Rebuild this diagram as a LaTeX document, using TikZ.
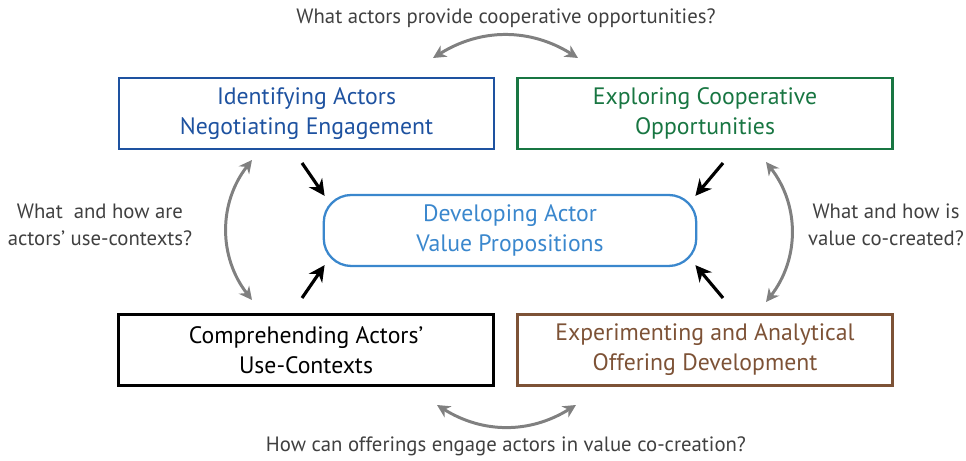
\documentclass[tikz,border=0pt]{standalone}
\usepackage{fontspec}
\setmainfont{PT Sans}
\usetikzlibrary{arrows.meta,positioning,calc}
\definecolor{idblue}{RGB}{30,82,160}
\definecolor{expgreen}{RGB}{24,118,66}
\definecolor{devblue}{RGB}{58,135,205}
\definecolor{offbrown}{RGB}{125,82,54}
\definecolor{arcgray}{RGB}{128,128,128}
\definecolor{qgray}{RGB}{64,64,64}

\begin{document}
\begin{tikzpicture}[>={Stealth[length=2.6mm,width=2.6mm]},
  stage/.style={draw,line width=1.6pt,minimum width=7.5cm,minimum height=1.42cm,
    align=center,font=\fontsize{13.5}{17}\selectfont},
  qtext/.style={text=qgray,align=center,font=\fontsize{11.8}{15.5}\selectfont},
  loop/.style={<->,draw=arcgray,line width=1.7pt},
  push/.style={-{Stealth[length=3.2mm,width=3.2mm]},line width=1.8pt}]
\useasboundingbox (0,0) rectangle (19.32,9.22);
% the four stages and the centre
\node[stage,draw=idblue,text=idblue] (ident) at (6.13,6.95) {Identifying Actors\\Negotiating Engagement};
\node[stage,draw=expgreen,text=expgreen] (expl) at (14.10,6.95) {Exploring Cooperative\\Opportunities};
\node[stage,draw=black] (compr) at (6.12,2.22) {Comprehending Actors’\\Use-Contexts};
\node[stage,draw=offbrown,text=offbrown] (exper) at (14.10,2.22) {Experimenting and Analytical\\Offering Development};
\node[stage,draw=devblue,text=devblue,rounded corners=0.55cm,minimum width=7.45cm,line width=1.3pt] (dev) at (10.20,4.61) {Developing Actor\\Value Propositions};
% questions
\node[qtext] (qtop) at (10.12,8.86) {What actors provide cooperative opportunities?};
\node[qtext] (qbot) at (10.12,0.30) {How can offerings engage actors in value co-creation?};
\node[qtext] (qleft) at (2.00,4.72) {What\ \ and how are\\actors’ use-contexts?};
\node[qtext] (qright) at (17.72,4.72) {What and how is\\value co-created?};
% gray loops between stages
\coordinate (t1) at (8.66,8.06);
\coordinate (t2) at (11.56,8.06);
\coordinate (b1) at (8.74,1.12);
\coordinate (b2) at (11.52,1.12);
\coordinate (l1) at (5.04,6.02);
\coordinate (l2) at (5.04,3.22);
\coordinate (r1) at (15.32,5.98);
\coordinate (r2) at (15.32,3.18);
\draw[loop] (t1) to[bend left=32] (t2);
\draw[loop] (b1) to[bend right=32] (b2);
\draw[loop] (l1) to[bend right=38] (l2);
\draw[loop] (r1) to[bend left=38] (r2);
% black arrows into the centre
\coordinate (p1) at (6.04,5.96);
\coordinate (p2) at (14.46,5.96);
\coordinate (p3) at (6.04,3.26);
\coordinate (p4) at (14.46,3.26);
\draw[push] (p1) -- ($(dev.north west)+(0.04,-0.04)$);
\draw[push] (p2) -- ($(dev.north east)+(-0.04,-0.04)$);
\draw[push] (p3) -- ($(dev.south west)+(0.04,0.04)$);
\draw[push] (p4) -- ($(dev.south east)+(-0.04,0.04)$);
\end{tikzpicture}
\end{document}
